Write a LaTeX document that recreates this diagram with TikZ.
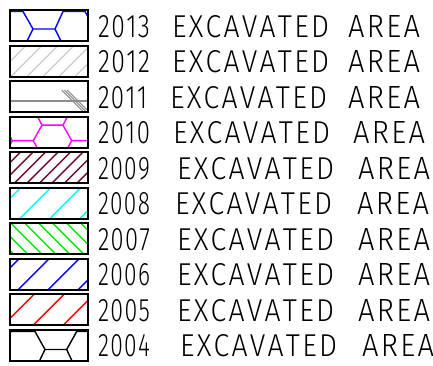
\documentclass[tikz,border=0pt]{standalone}
\usepackage{fontspec}
\usepackage{graphicx}
\newfontfamily\cad{Fira Sans}[UprightFont={* Light}]
\definecolor{hexblue}{RGB}{0,0,255}
\definecolor{lgray}{RGB}{205,205,205}
\definecolor{mgray}{RGB}{140,140,140}
\definecolor{hexmag}{RGB}{255,0,255}
\definecolor{maroonh}{RGB}{110,12,40}
\definecolor{cyanh}{RGB}{0,255,255}
\definecolor{greenh}{RGB}{0,235,0}
\definecolor{redh}{RGB}{255,0,0}
\newcommand\cadw[2]{\resizebox{#1pt}{22pt}{\cad #2}}
\newcommand\lsp{\kern0.08em}
\newcommand\dsp{\kern0.06em}
\tikzset{
  frame/.style={draw=black, line width=2pt},
  hat/.style={line width=1.4pt, line cap=butt},
  lbl/.style={anchor=base west, inner sep=0pt, outer sep=0pt},
}
\begin{document}
\begin{tikzpicture}[x=1pt,y=-1pt]
\useasboundingbox (0,0) rectangle (433,365);
\fill[white] (0,0) rectangle (433,365);

% ---------- 2013 : blue honeycomb ----------
\begin{scope}[shift={(9,9)}]
  \begin{scope}
    \clip (1,1) rectangle (79,32);
    \draw[hat,hexblue] (-2,2.5) -- (14,2.5) -- (24,20) -- (46,20) -- (54,2.5) -- (76,2.5) -- (86,20);
    \draw[hat,hexblue] (24,20) -- (17,34);
    \draw[hat,hexblue] (46,20) -- (53,34);
  \end{scope}
  \draw[frame] (1,1) rectangle (79,32);
\end{scope}

% ---------- 2012 : light gray hatch ----------
\begin{scope}[shift={(9,44.55)}]
  \begin{scope}
    \clip (1,1) rectangle (79,32);
    \foreach \c in {2,18,...,130}
      \draw[hat,lgray,line width=1.2pt] (\c,0) -- ++(-36,36);
  \end{scope}
  \draw[frame] (1,1) rectangle (79,32);
\end{scope}

% ---------- 2011 : gray line + triple diagonal ----------
\begin{scope}[shift={(9,80.1)}]
  \begin{scope}
    \clip (1,1) rectangle (79,32);
    \draw[mgray,line width=1.6pt] (0,21) -- (80,21);
    \foreach \c in {52.7,55.5,58.3}
      \draw[mgray,line width=1.1pt] (\c,10) -- ++(24,24);
  \end{scope}
  \draw[frame] (1,1) rectangle (79,32);
\end{scope}

% ---------- 2010 : magenta honeycomb ----------
\begin{scope}[shift={(9,115.65)}]
  \begin{scope}
    \clip (1,1) rectangle (79,32);
    \draw[hat,hexmag] (28,0) -- (33,9.5) -- (54,9.5) -- (59,0);
    \draw[hat,hexmag] (-5,9.5) -- (3.3,25) -- (24.3,25) -- (33,9.5);
    \draw[hat,hexmag] (54,9.5) -- (62.7,25) -- (84,25);
    \draw[hat,hexmag] (3.3,25) -- (-1,33);
    \draw[hat,hexmag] (24.3,25) -- (28.6,33);
    \draw[hat,hexmag] (62.7,25) -- (58.4,33);
  \end{scope}
  \draw[frame] (1,1) rectangle (79,32);
\end{scope}

% ---------- 2009 : maroon hatch ----------
\begin{scope}[shift={(9,151.2)}]
  \begin{scope}
    \clip (1,1) rectangle (79,32);
    \foreach \c in {0,12.5,...,125}
      \draw[hat,maroonh] (\c,0) -- ++(-36,36);
  \end{scope}
  \draw[frame] (1,1) rectangle (79,32);
\end{scope}

% ---------- 2008 : cyan hatch ----------
\begin{scope}[shift={(9,186.75)}]
  \begin{scope}
    \clip (1,1) rectangle (79,32);
    \foreach \c in {12.7,42.7,72.7,102.7}
      \draw[hat,cyanh] (\c,0) -- ++(-36,36);
  \end{scope}
  \draw[frame] (1,1) rectangle (79,32);
\end{scope}

% ---------- 2007 : green hatch ----------
\begin{scope}[shift={(9,222.3)}]
  \begin{scope}
    \clip (1,1) rectangle (79,32);
    \foreach \c in {-41,-27,-13,1,15,29,43,57,71}
      \draw[hat,greenh] (\c,0) -- ++(36,36);
  \end{scope}
  \draw[frame] (1,1) rectangle (79,32);
\end{scope}

% ---------- 2006 : blue hatch ----------
\begin{scope}[shift={(9,257.85)}]
  \begin{scope}
    \clip (1,1) rectangle (79,32);
    \foreach \c in {11,41,71,101}
      \draw[hat,hexblue] (\c,0) -- ++(-36,36);
  \end{scope}
  \draw[frame] (1,1) rectangle (79,32);
\end{scope}

% ---------- 2005 : red hatch ----------
\begin{scope}[shift={(9,293.4)}]
  \begin{scope}
    \clip (1,1) rectangle (79,32);
    \foreach \c in {26,56,86,116}
      \draw[hat,redh] (\c,0) -- ++(-36,36);
  \end{scope}
  \draw[frame] (1,1) rectangle (79,32);
\end{scope}

% ---------- 2004 : black honeycomb ----------
\begin{scope}[shift={(9,328.95)}]
  \begin{scope}
    \clip (1,1) rectangle (79,32);
    \draw[hat,black] (-1,7) -- (2,2.5) -- (26,2.5) -- (36,20.5) -- (57.7,20.5) -- (67.7,2.5) -- (82,2.5);
    \draw[hat,black] (36,20.5) -- (30,33);
    \draw[hat,black] (57.7,20.5) -- (63.5,33);
  \end{scope}
  \draw[frame] (1,1) rectangle (79,32);
\end{scope}

% ---------- labels ----------
\foreach \i/\da/\db/\dc/\dd/\yw/\ex/\ax in {0/2/0/1/3/52/172/348, 1/2/0/1/2/52/172/348, 2/2/0/1/1/49/170/348,
    3/2/0/1/0/52/173/353, 4/2/0/0/9/52/177/358, 5/2/0/0/8/52/175/357, 6/2/0/0/7/52/177/358,
    7/2/0/0/6/52/177/358, 8/2/0/0/5/52/177/358, 9/2/0/0/4/52/180/362}{
  \pgfmathsetmacro\bl{37+35.55*\i}
  \node[lbl] (y\i) at (98,\bl) {\cadw{\yw}{\da\dsp\db\dsp\dc\dsp\dd}};
  \node[lbl] (e\i) at (\ex,\bl) {\cadw{157}{E\lsp X\lsp C\lsp A\lsp V\lsp A\lsp T\lsp E\lsp D}};
  \node[lbl] (a\i) at (\ax,\bl) {\cadw{72}{A\lsp R\lsp E\lsp A}};
}
\end{tikzpicture}
\end{document}
